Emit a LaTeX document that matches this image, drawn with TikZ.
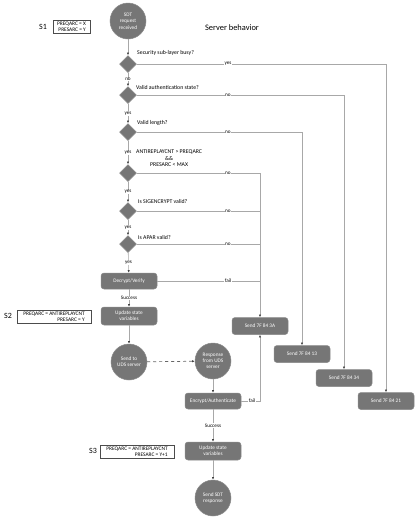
\documentclass[tikz,border=0pt]{standalone}
\usepackage{fontspec}
\setmainfont{Carlito}
\usetikzlibrary{shapes.geometric,arrows.meta}
\definecolor{nodefill}{HTML}{767676}
\definecolor{nodeline}{HTML}{8A8A8A}
\definecolor{conn}{HTML}{A8A8A8}
\definecolor{tipc}{HTML}{404040}
\tikzset{
  base/.style={fill=nodefill,draw=nodeline,line width=0.5pt,text=white,font=\fontsize{5.3}{6.3}\selectfont,align=center,inner sep=0pt},
  circ/.style={base,circle,minimum size=36pt},
  dia/.style={base,diamond,minimum width=17pt,minimum height=17pt},
  rbox/.style={base,rectangle,rounded corners=3pt,minimum width=56pt,minimum height=17pt},
  conn/.style={draw=conn,line width=0.6pt},
  arr/.style={conn,-{Latex[length=2.6pt,width=2.2pt,color=tipc]}},
  lbl/.style={fill=white,inner sep=0.6pt,font=\fontsize{5.2}{6.2}\selectfont,text=black},
  qtxt/.style={font=\fontsize{5.8}{6.6}\selectfont,inner sep=0pt,anchor=west,align=center},
  sbox/.style={draw=black!70,line width=0.5pt,fill=white,inner sep=1.5pt,align=right,font=\fontsize{5.4}{6.4}\selectfont},
  slbl/.style={font=\fontsize{8}{9.5}\selectfont,inner sep=0pt}
}
\begin{document}
\begin{tikzpicture}[x=1pt,y=-1pt]
\useasboundingbox (0,0) rectangle (420,531);
% main nodes
\node[circ] (start) at (128,21) {SDT\\request\\received};
\node[dia] (d1) at (128,64) {};
\node[dia] (d2) at (128,95) {};
\node[dia] (d3) at (128,132) {};
\node[dia] (d4) at (128,173) {};
\node[dia] (d5) at (128,211) {};
\node[dia] (d6) at (128,244) {};
\node[rbox,minimum height=16pt] (dec) at (129,281) {Decrypt/Verify};
\node[rbox,minimum height=18pt] (upd1) at (129,316) {Update state\\variables};
\node[circ] (send) at (129,362) {Send to\\UDS server};
\node[circ] (resp) at (213,361) {Response\\from UDS\\server};
\node[rbox,minimum height=16pt] (enc) at (213,401) {Encrypt/Authenticate};
\node[rbox,minimum height=18pt] (upd2) at (213,451) {Update state\\variables};
\node[circ] (sdt) at (213,498) {Send SDT\\response};
\node[rbox] (e3A) at (260,326) {Send 7F 84 3A};
\node[rbox] (e13) at (302,354) {Send 7F 84 13};
\node[rbox] (e34) at (344,378) {Send 7F 84 34};
\node[rbox] (e21) at (386,401) {Send 7F 84 21};
% title and side notes
\node[font=\fontsize{8.4}{10}\selectfont,inner sep=0pt] (title) at (232,28) {Server behavior};
\node[slbl] (s1) at (43,27) {S1};
\node[sbox,minimum width=37pt] (b1) at (71.5,27) {PREQARC = X\\PRESARC = Y};
\node[slbl] (s2) at (8,316) {S2};
\node[sbox,minimum width=74pt] (b2) at (54,316.5) {PREQARC = ANTIREPLAYCNT\\PRESARC = Y};
\node[slbl] (s3) at (93,451) {S3};
\node[sbox,minimum width=74pt] (b3) at (137,451.5) {PREQARC = ANTIREPLAYCNT\\PRESARC = Y+1};
% question texts
\node[qtxt] (q1) at (137,53) {Security sub-layer busy?};
\node[qtxt] (q2) at (136,88) {Valid authentication state?};
\node[qtxt] (q3) at (137,123) {Valid length?};
\node[qtxt] (q4) at (136,158.5) {ANTIREPLAYCNT > PREQARC\\\&\&\\PRESARC < MAX};
\node[qtxt] (q5) at (138,202) {Is SIGENCRYPT valid?};
\node[qtxt] (q6) at (138,238) {Is APAR valid?};
% main column connectors
\draw[arr] (start) -- (d1);
\draw[arr] (d1) -- node[lbl,pos=0.5]{no} (d2);
\draw[arr] (d2) -- node[lbl,pos=0.5]{yes} (d3);
\draw[arr] (d3) -- node[lbl,pos=0.52]{yes} (d4);
\draw[arr] (d4) -- node[lbl,pos=0.5]{yes} (d5);
\draw[arr] (d5) -- node[lbl,pos=0.5]{yes} (d6);
\draw[arr] (d6) -- node[lbl,pos=0.5]{yes} (dec);
\draw[arr] (dec) -- node[lbl,pos=0.5]{Success} (upd1);
\draw[arr] (upd1) -- (send);
\draw[arr,draw=tipc!80,dashed,line width=0.7pt] (send) -- (resp);
\draw[arr] (resp) -- (enc);
\draw[arr] (enc) -- node[lbl,pos=0.5]{Success} (upd2);
\draw[arr] (upd2) -- (sdt);
% failure branches
\draw[arr] (d1.east) -| node[lbl,pos=0.183]{yes} (e21.north);
\draw[arr] (d2.east) -| node[lbl,pos=0.22]{no} (e34.north);
\draw[arr] (d3.east) -| node[lbl,pos=0.276]{no} (e13.north);
\draw[arr] (d4.east) -| node[lbl,pos=0.37]{no} (e3A.north);
\draw[conn] (d5.east) -- node[lbl,pos=0.74]{no} (d5.east -| e3A.north);
\draw[conn] (d6.east) -- node[lbl,pos=0.74]{no} (d6.east -| e3A.north);
\draw[conn] (dec.east) -- node[lbl,pos=0.69]{fail} (dec.east -| e3A.north);
\draw[arr] (enc.east) -| node[lbl,pos=0.29]{fail} (e3A.south);
\end{tikzpicture}
\end{document}
